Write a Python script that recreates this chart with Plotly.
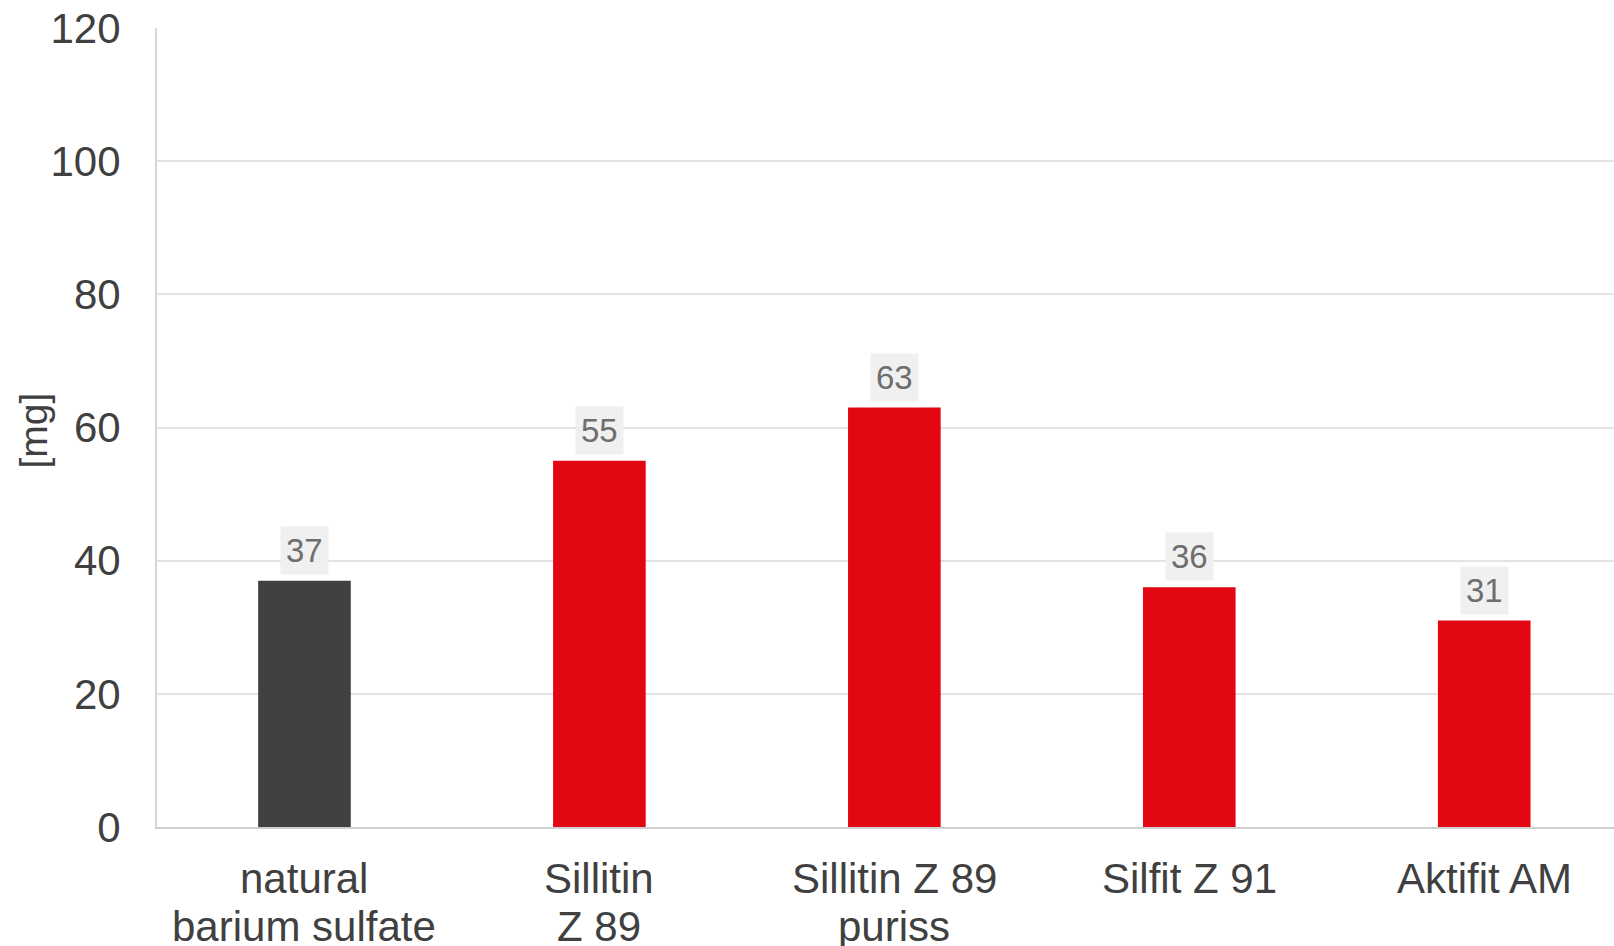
import plotly.graph_objects as go

categories = ["natural\nbarium sulfate", "Sillitin\nZ 89", "Sillitin Z 89\npuriss", "Silfit Z 91", "Aktifit AM"]
values = [37, 55, 63, 36, 31]
bar_colors = ["#414141", "#e30613", "#e30613", "#e30613", "#e30613"]
y_ticks = [0, 20, 40, 60, 80, 100, 120]
y_title = "[mg]"

FONT = "Liberation Sans, Arial, sans-serif"

fig = go.Figure()
fig.add_trace(go.Bar(
    x=list(range(len(categories))),
    y=values,
    marker=dict(color=bar_colors, line=dict(width=0)),
    width=0.314,
    hoverinfo="skip",
))

annotations = []
# data labels
for i, v in enumerate(values):
    annotations.append(dict(
        x=i, y=v, xref="x", yref="y", text=str(v), showarrow=False,
        yanchor="bottom", yshift=6, bgcolor="#f0f0f0", borderpad=5,
        font=dict(family=FONT, size=33, color="#6e6e6e"),
    ))
# category labels (multi-line, custom spacing)
for i, c in enumerate(categories):
    for j, line in enumerate(c.split("\n")):
        annotations.append(dict(
            x=i, y=0, xref="x", yref="paper", text=line, showarrow=False,
            yanchor="top", yshift=-26 - 48 * j,
            font=dict(family=FONT, size=42, color="#404040"),
        ))
# y-axis title
annotations.append(dict(
    x=0, y=0.5, xref="paper", yref="paper", text=y_title, showarrow=False,
    textangle=-90, xanchor="center", yanchor="middle", xshift=-124, yshift=-3,
    font=dict(family=FONT, size=39, color="#404040"),
))

fig.update_layout(
    width=1614, height=946,
    margin=dict(l=157, r=0, t=28, b=119),
    paper_bgcolor="white", plot_bgcolor="white",
    showlegend=False,
    annotations=annotations,
    xaxis=dict(
        range=[-0.5, 4.44], automargin=False,
        showticklabels=False, showgrid=False, zeroline=False,
        showline=True, linecolor="#cfcfcf", linewidth=2, ticks="",
        fixedrange=True,
    ),
    yaxis=dict(
        range=[0, 120], tickvals=y_ticks, ticktext=[str(t) for t in y_ticks],
        automargin=False,
        showgrid=True, gridcolor="#e3e3e3", gridwidth=2, zeroline=False,
        showline=True, linecolor="#d6d6d6", linewidth=2, ticks="",
        ticklabelstandoff=26,
        tickfont=dict(family=FONT, size=42, color="#404040"),
        fixedrange=True,
    ),
)

fig.write_html("out.html")
